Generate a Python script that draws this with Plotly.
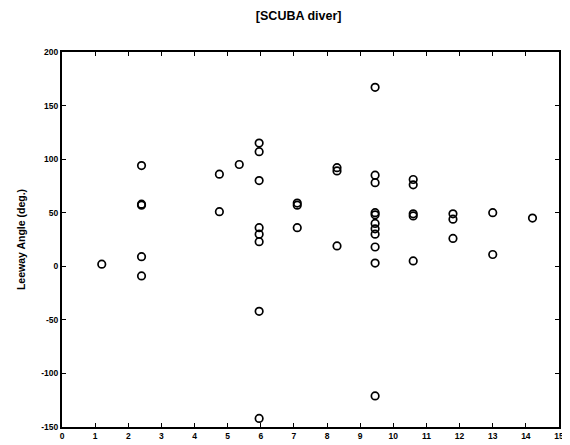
import plotly.graph_objects as go

# Wind speed columns (x) and leeway angles (deg.) observed at each
wind_speed = [1.2, 2.4, 4.75, 5.35, 5.95, 7.1, 8.3, 9.45, 10.6, 11.8, 13.0, 14.2]
leeway_angle = [
    [2],
    [94, 58, 57, 9, -9],
    [86, 51],
    [95],
    [115, 107, 80, 36, 30, 23, -42, -142],
    [59, 57, 36],
    [92, 89, 19],
    [167, 85, 78, 50, 48, 40, 35, 30, 18, 3, -121],
    [81, 76, 49, 47, 5],
    [49, 44, 26],
    [50, 11],
    [45],
]
y_tickvals = [-150, -100, -50, 0, 50, 100, 150, 200]
y_ticktext = ["-150", "-100", "-50", "0", "50", "100", "150", "200"]
x_tickvals = list(range(0, 16))

xs, ys = [], []
for xv, col in zip(wind_speed, leeway_angle):
    for yv in col:
        xs.append(xv)
        ys.append(yv)

FONT = "Liberation Sans, Arial, Helvetica, sans-serif"

fig = go.Figure(go.Scatter(
    x=xs, y=ys, mode="markers",
    marker=dict(symbol="circle-open", size=7.5, color="black", line=dict(width=1.7, color="black")),
    showlegend=False,
))

fig.update_layout(
    width=570, height=445,
    margin=dict(l=53, r=19, t=44, b=14),
    paper_bgcolor="white", plot_bgcolor="white",
    title=dict(text="[SCUBA diver]", x=0.51, xanchor="center", y=0.982, yanchor="middle",
               font=dict(family=FONT, size=12.5, color="black", weight="bold")),
    font=dict(family=FONT, color="black"),
)
fig.update_xaxes(
    range=[0, 15], tickvals=x_tickvals, showgrid=False, zeroline=False,
    showline=True, linecolor="black", linewidth=2, mirror="ticks",
    ticks="inside", ticklen=4, tickcolor="black", tickwidth=1,
    tickfont=dict(family=FONT, size=8.5, color="black", weight="bold"),
)
fig.update_yaxes(
    range=[-150, 200], tickvals=y_tickvals, ticktext=y_ticktext, showgrid=False, zeroline=False,
    showline=True, linecolor="black", linewidth=2, mirror="ticks",
    ticks="inside", ticklen=4, tickcolor="black", tickwidth=1,
    tickfont=dict(family=FONT, size=8.5, color="black", weight="bold"),
    title=dict(text="Leeway Angle (deg.)", standoff=14,
               font=dict(family=FONT, size=10.5, color="black", weight="bold")),
)

fig.write_html("out.html")
